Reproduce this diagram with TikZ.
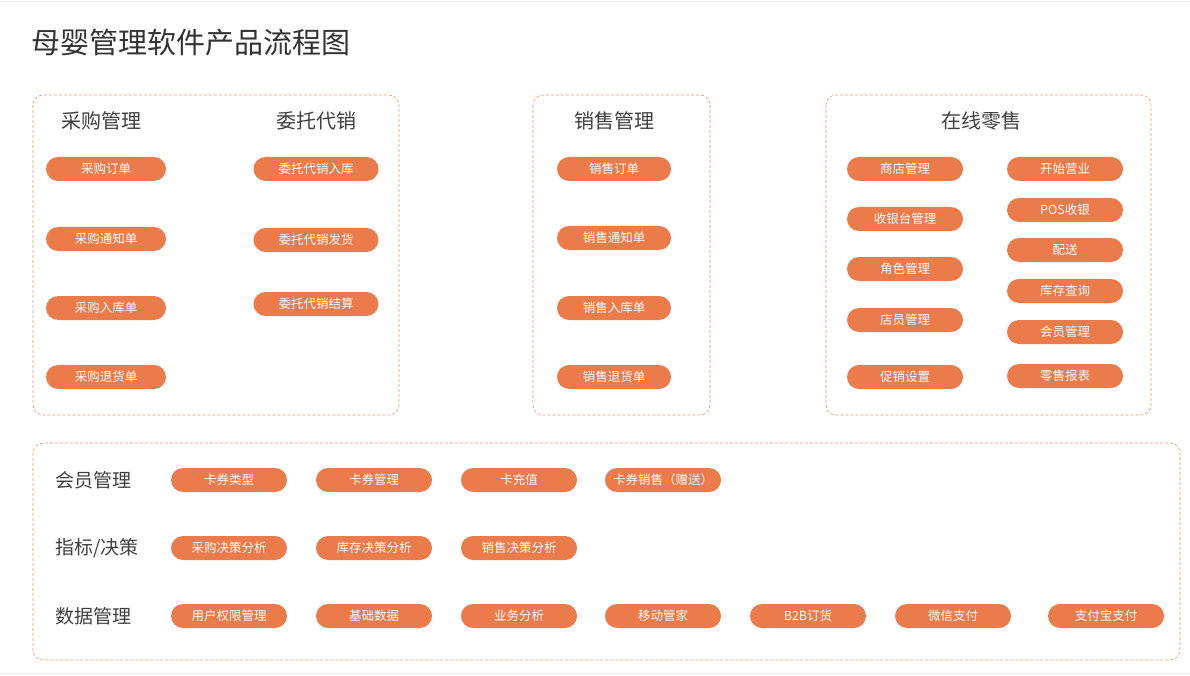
\documentclass[tikz,border=0pt]{standalone}
\usepackage{fontspec}
\setmainfont{Noto Sans CJK SC}
\begin{document}
\begin{tikzpicture}[x=1pt,y=-1pt,
  pill/.style={fill=pillc,rounded corners=12pt,minimum width=120pt,minimum height=24pt,inner sep=0pt,text=white,font=\fontsize{12.5}{14}\selectfont},
  pillb/.style={pill,minimum width=116pt},
  grp/.style={draw=pillc!80,dashed,dash pattern=on 3pt off 2pt,rounded corners=10pt,line width=0.6pt},
  hdr/.style={font=\fontsize{20}{22}\selectfont,text=black!75},
  lbl/.style={font=\fontsize{19}{22}\selectfont,text=black!75,anchor=west}]
\definecolor{pillc}{HTML}{EC7B4B}
\useasboundingbox (0,0) rectangle (1190,676);
\fill[white] (0,0) rectangle (1190,676);
\draw[black!8] (0,1) -- (1190,1);
\draw[black!8] (0,673) -- (1190,673);
\node[anchor=west,font=\fontsize{29}{32}\selectfont,text=black!80] (title) at (28,43) {母婴管理软件产品流程图};
\draw[grp] (33,95) rectangle (399,415);
\draw[grp] (533,95) rectangle (710,415);
\draw[grp] (826,95) rectangle (1151,415);
\draw[grp] (33,443) rectangle (1180,660);
\node[hdr] (h1) at (101,121) {采购管理};
\node[hdr] (h2) at (316,121) {委托代销};
\node[hdr] (h3) at (614,121) {销售管理};
\node[hdr] (h4) at (981,121) {在线零售};
\node[pill] (a1) at (106,169) {采购订单};
\node[pill] (a2) at (106,239) {采购通知单};
\node[pill] (a3) at (106,308) {采购入库单};
\node[pill] (a4) at (106,377) {采购退货单};
\node[pill,minimum width=125pt] (b1) at (316,169) {委托代销入库};
\node[pill,minimum width=125pt] (b2) at (316,240) {委托代销发货};
\node[pill,minimum width=125pt] (b3) at (316,304) {委托代销结算};
\node[pill,minimum width=114pt] (c1) at (614,169) {销售订单};
\node[pill,minimum width=114pt] (c2) at (614,238) {销售通知单};
\node[pill,minimum width=114pt] (c3) at (614,308) {销售入库单};
\node[pill,minimum width=114pt] (c4) at (614,377) {销售退货单};
\node[pillb] (d1) at (905,169) {商店管理};
\node[pillb] (d2) at (905,219) {收银台管理};
\node[pillb] (d3) at (905,269) {角色管理};
\node[pillb] (d4) at (905,320) {店员管理};
\node[pillb] (d5) at (905,377) {促销设置};
\node[pillb] (e1) at (1065,169) {开始营业};
\node[pillb] (e2) at (1065,210) {POS收银};
\node[pillb] (e3) at (1065,250) {配送};
\node[pillb] (e4) at (1065,291) {库存查询};
\node[pillb] (e5) at (1065,332) {会员管理};
\node[pillb] (e6) at (1065,376) {零售报表};
\node[lbl] (l1) at (52,480) {会员管理};
\node[lbl] (l2) at (52,548) {指标/决策};
\node[lbl] (l3) at (52,616) {数据管理};
\node[pillb] (f1) at (229,480) {卡券类型};
\node[pillb] (f2) at (374,480) {卡券管理};
\node[pillb] (f3) at (519,480) {卡充值};
\node[pillb] (f4) at (663,480) {卡券销售（赠送）};
\node[pillb] (g1) at (229,548) {采购决策分析};
\node[pillb] (g2) at (374,548) {库存决策分析};
\node[pillb] (g3) at (519,548) {销售决策分析};
\node[pillb] (k1) at (229,616) {用户权限管理};
\node[pillb] (k2) at (374,616) {基础数据};
\node[pillb] (k3) at (519,616) {业务分析};
\node[pillb] (k4) at (663,616) {移动管家};
\node[pillb] (k5) at (808,616) {B2B订货};
\node[pillb] (k6) at (953,616) {微信支付};
\node[pillb] (k7) at (1106,616) {支付宝支付};
\end{tikzpicture}
\end{document}
